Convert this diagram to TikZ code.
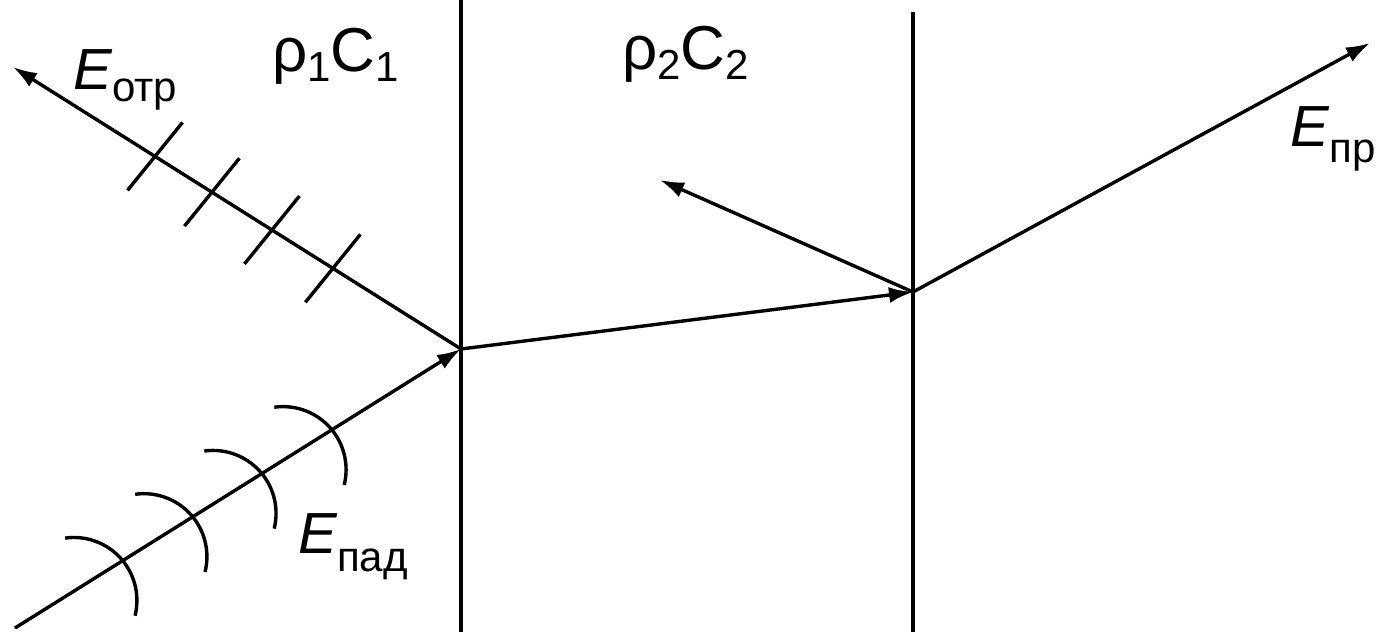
\documentclass[tikz,border=0pt]{standalone}
\usepackage{fontspec}
\setmainfont{Liberation Sans}
\usetikzlibrary{arrows.meta,calc}
\newcommand{\sbs}[2][-6pt]{\raisebox{#1}{\fontsize{21}{21}\selectfont #2}}
\tikzset{
  ray/.style={line width=1.7pt},
  rayarrow/.style={ray,-{Latex[length=12pt,width=8pt]}},
  wall/.style={line width=1.7pt},
  mark line/.style={line width=1.7pt},
  lbl/.style={anchor=base west,inner sep=0pt,outer sep=0pt},
}
\begin{document}
\begin{tikzpicture}[x=0.5pt,y=0.5pt]
\useasboundingbox (0,0) rectangle (1384,632);
% boundaries
\coordinate (w1t) at (461,632);
\coordinate (w1b) at (461,0);
\coordinate (w2t) at (913,620);
\coordinate (w2b) at (913,0);
\draw[wall] (w1t) -- (w1b);
\draw[wall] (w2t) -- (w2b);
% ray points
\coordinate (A)  at (15,4);
\coordinate (P1) at (461,283);
\coordinate (R)  at (13,565);
\coordinate (P2) at (913,340);
\coordinate (B)  at (660,452);
\coordinate (T)  at (1370,589);
% rays
\draw[rayarrow] (A) -- (P1);
\draw[rayarrow] (P1) -- (R);
\draw[rayarrow] (P1) -- (P2);
\draw[rayarrow] (P2) -- (B);
\draw[rayarrow] (P2) -- (T);
% wave fronts (ticks) on the reflected ray
\foreach \t in {0.317,0.444,0.578,0.714}{
  \draw[mark line] ($(R)!\t!(P1)+(231:43.7)$) -- ++(51:87.4);
}
% wave fronts (arcs) on the incident ray
\foreach \t in {0.242,0.399,0.554,0.711}{
  \draw[mark line] ($(A)!\t!(P1)+(-57.8,22.4)$) arc (98:-14:63);
}
% labels
\node[lbl] (eotr) at (73,542) {\fontsize{29}{29}\selectfont\textit{E}\sbs{отр}};
\node[lbl] (rc1) at (272,560) {\fontsize{31}{31}\selectfont ρ\sbs[-5pt]{1}C\sbs[-5pt]{1}};
\node[lbl] (rc2) at (622,562) {\fontsize{31}{31}\selectfont ρ\sbs[-5pt]{2}C\sbs[-5pt]{2}};
\node[lbl] (epad) at (298,79) {\fontsize{29}{29}\selectfont\textit{E}\sbs[-9pt]{пад}};
\node[lbl] (epr) at (1290,485) {\fontsize{29}{29}\selectfont\textit{E}\sbs[-8pt]{пр}};
\end{tikzpicture}
\end{document}
